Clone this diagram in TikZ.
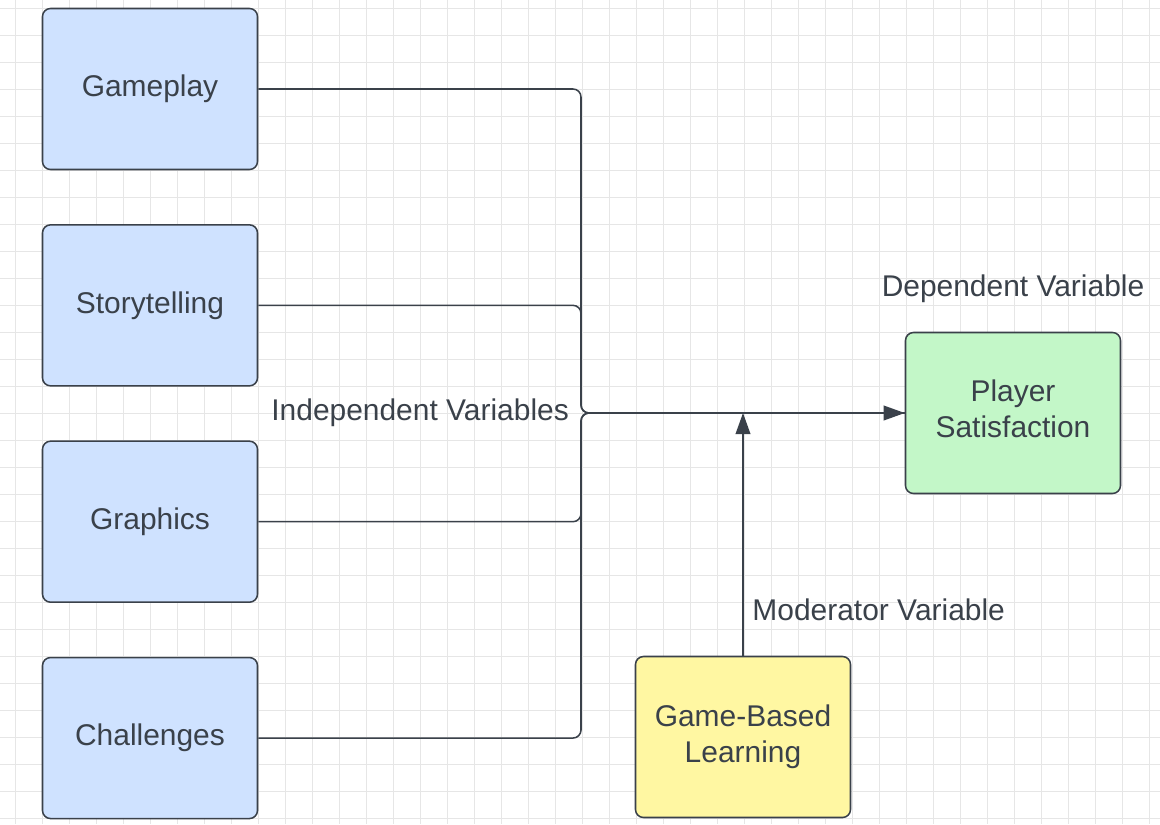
\documentclass[tikz,border=0pt]{standalone}
\usepackage{fontspec}
\setmainfont{Liberation Sans}
\usetikzlibrary{positioning, arrows.meta}
\definecolor{inkgray}{HTML}{3A414A}
\definecolor{ivblue}{HTML}{CFE2FF}
\definecolor{dvgreen}{HTML}{C3F7C8}
\definecolor{mvyellow}{HTML}{FFF7A2}
\definecolor{gridgray}{HTML}{E6E6E6}

\begin{document}
\begin{tikzpicture}[
  varbox/.style={draw=inkgray, line width=1.1pt, rounded corners=0.2cm, rectangle, minimum width=5.375cm, minimum height=4.025cm, align=center, text=inkgray, font=\fontsize{21.3}{25.5}\selectfont},
  ivbox/.style={varbox, fill=ivblue},
  dvbox/.style={varbox, fill=dvgreen},
  mvbox/.style={varbox, fill=mvyellow},
  lbl/.style={text=inkgray, font=\fontsize{21.3}{25.5}\selectfont},
  link/.style={draw=inkgray, line width=1.1pt, rounded corners=0.2cm},
  arr/.style={-{Triangle[length=0.53cm, width=0.37cm]}},
  gridline/.style={draw=gridgray, line width=0.6pt}
]
  \useasboundingbox[fill=white] (0,0) rectangle (29,-20.6);
  % background grid
  \foreach \gx in {0,...,42}
    \draw[gridline] ({0.375+0.675*\gx},0) -- ++(0,-20.6);
  \foreach \gy in {0,...,30}
    \draw[gridline] (0,{-0.2-0.675*\gy}) -- ++(29,0);

  \node[ivbox] (gameplay) at (3.75,-2.225) {Gameplay};
  \node[ivbox, below=1.345cm of gameplay] (story)      {Storytelling};
  \node[ivbox, below=1.345cm of story]    (graphics)   {Graphics};
  \node[ivbox, below=1.345cm of graphics] (challenges) {Challenges};

  \node[dvbox] (satisf) at (25.325,-10.325) {Player\\Satisfaction\rule[-0.2cm]{0pt}{0.2cm}};
  \node[mvbox] (gbl) at (18.575,-18.425) {Game-Based\\Learning};

  \coordinate (hub) at (14.525,-10.325);

  \node[lbl, left=0.18cm of hub]    (indep) {Independent Variables};
  \node[lbl, above=0.6cm of satisf] (dep)   {Dependent Variable};

  \draw[link, arr] (gameplay.east) -| (hub) -- (satisf.west);
  \draw[link] (story.east)      -| (hub) -- (satisf.west);
  \draw[link] (graphics.east)   -| (hub) -- (satisf.west);
  \draw[link] (challenges.east) -| (hub) -- (satisf.west);
  \draw[link, arr] (gbl.north) -- node[lbl, pos=0.19, right, xshift=0.1cm]{Moderator Variable} (gbl.north |- hub);
\end{tikzpicture}
\end{document}
